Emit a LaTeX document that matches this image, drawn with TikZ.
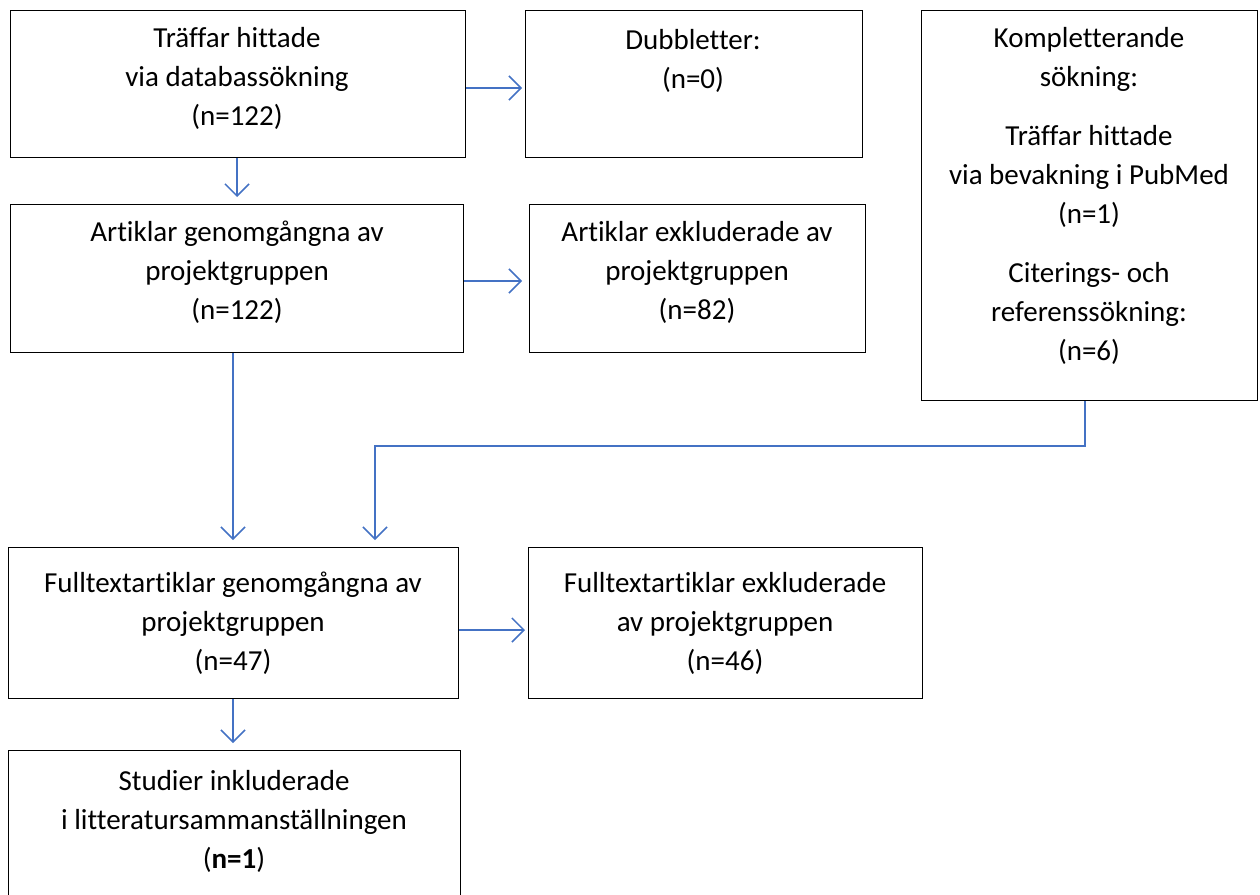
\documentclass[tikz,border=0pt]{standalone}
\usepackage{fontspec}
\setmainfont{Carlito}[Ligatures=NoCommon]
\usetikzlibrary{arrows.meta,calc}
\definecolor{arrowblue}{RGB}{68,114,196}
\tikzset{
  box/.style={draw=black,line width=1.3pt,rectangle,inner sep=0pt,anchor=north west},
  txt/.style={align=center,inner sep=0pt,anchor=base,font=\fontsize{29}{39}\selectfont},
  conn/.style={draw=arrowblue,line width=1.5pt,-{Straight Barb[length=12pt,width=24pt,line width=1.5pt]}},
}
\begin{document}
\begin{tikzpicture}[x=1pt,y=-1pt]
\useasboundingbox (0,0) rectangle (1260,894);
% boxes
\node[box,minimum width=455pt,minimum height=147pt] (b1) at (10,10) {};
\node[box,minimum width=337pt,minimum height=147pt] (b2) at (525,10) {};
\node[box,minimum width=336pt,minimum height=390pt] (b3) at (921,10) {};
\node[box,minimum width=453pt,minimum height=148pt] (b4) at (10,204) {};
\node[box,minimum width=336pt,minimum height=148pt] (b5) at (529,204) {};
\node[box,minimum width=450pt,minimum height=151pt] (b6) at (8,547) {};
\node[box,minimum width=394pt,minimum height=151pt] (b7) at (528,547) {};
\node[box,minimum width=452pt,minimum height=160pt] (b8) at (8,750) {};
% texts (anchor base = last line baseline)
\node[txt] (t1) at (237,125) {Träffar hittade\\via databassökning\\(n=122)};
\node[txt] (t2) at (693,88) {Dubbletter:\\(n=0)};
\node[txt] (t3) at (1089,360) {Kompletterande\\sökning:\\[20pt]Träffar hittade\\via bevakning i PubMed\\(n=1)\\[20pt]Citerings- och\\referenssökning:\\(n=6)};
\node[txt] (t4) at (237,319) {Artiklar genomgångna av\\projektgruppen\\(n=122)};
\node[txt] (t5) at (697,319) {Artiklar exkluderade av\\projektgruppen\\(n=82)};
\node[txt] (t6) at (233,670) {Fulltextartiklar genomgångna av\\projektgruppen\\(n=47)};
\node[txt] (t7) at (725,670) {Fulltextartiklar exkluderade\\av projektgruppen\\(n=46)};
\node[txt] (t8) at (234,868) {Studier inkluderade\\i litteratursammanställningen\\(\textbf{n=1})};
% helper coordinates
\coordinate (y1) at (0,88);
\coordinate (y4) at (0,281);
\coordinate (y6) at (0,630);
\coordinate (x1) at (237,0);
\coordinate (x4) at (233,0);
\coordinate (xm) at (375,0);
\coordinate (xk) at (1085,0);
\coordinate (ym) at (0,446);
% connectors
\draw[conn,shorten >=3pt] (b1.east |- y1) -- (b2.west |- y1);
\draw[conn,shorten >=7pt] (x1 |- b1.south) -- (x1 |- b4.north);
\draw[conn,shorten >=7pt] (b4.east |- y4) -- (b5.west |- y4);
\draw[conn,shorten >=7pt] (x4 |- b4.south) -- (x4 |- b6.north);
\draw[conn,shorten >=7pt] (xk |- b3.south) -- (xk |- ym) -- (xm |- ym) -- (xm |- b6.north);
\draw[conn,shorten >=3pt] (b6.east |- y6) -- (b7.west |- y6);
\draw[conn,shorten >=7pt] (x4 |- b6.south) -- (x4 |- b8.north);
\end{tikzpicture}
\end{document}
